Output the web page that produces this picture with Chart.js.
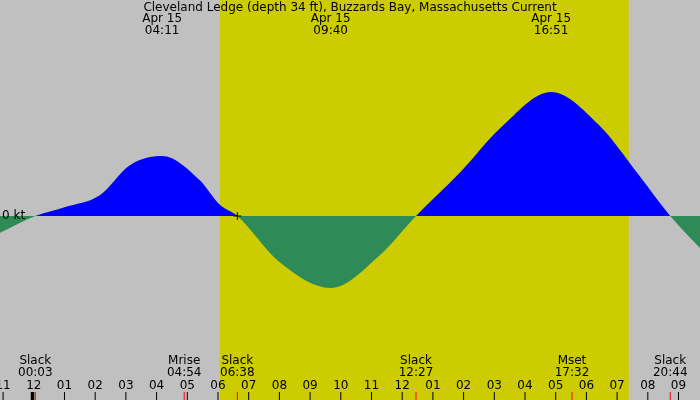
<!DOCTYPE html>
<html>
<head>
<meta charset="utf-8">
<script src="https://cdn.jsdelivr.net/npm/chart.js@4"></script>
<style>
html, body { margin: 0; padding: 0; background: #c0c0c0; }
#wrap { width: 700px; height: 400px; }
</style>
</head>
<body>
<div id="wrap"><canvas id="tide"></canvas></div>
<script>
// hours since midnight, current in kt
const hours = [-1.1, 0.05, 1.0, 2.15, 3.13, 4.18, 5.4, 6.06, 6.63, 8.0, 9.67, 11.27, 12.45, 13.9, 15.2, 16.85, 18.4, 19.7, 20.73, 21.7];
const speeds = [-0.42, 0, 0.22, 0.52, 1.27, 1.5, 0.9, 0.28, 0, -1.15, -1.8, -0.98, 0, 1.1, 2.2, 3.1, 2.28, 1.03, 0, -0.8];
const hourTicks = [-1, 0, 1, 2, 3, 4, 5, 6, 7, 8, 9, 10, 11, 12, 13, 14, 15, 16, 17, 18, 19, 20, 21];
const sunrise = 6.06, sunset = 19.38;
const peaks = [{ h: 4.18, date: 'Apr 15', time: '04:11' }, { h: 9.67, date: 'Apr 15', time: '09:40' }, { h: 16.85, date: 'Apr 15', time: '16:51' }];
const events = [
    { h: 0.05, name: 'Slack', time: '00:03' },
    { h: 4.9, name: 'Mrise', time: '04:54' },
    { h: 6.63, name: 'Slack', time: '06:38' },
    { h: 12.45, name: 'Slack', time: '12:27' },
    { h: 17.53, name: 'Mset', time: '17:32' },
    { h: 20.73, name: 'Slack', time: '20:44' }
];
const title = 'Cleveland Ledge (depth 34 ft), Buzzards Bay, Massachusetts Current';

const FONT = '12px "DejaVu Sans", sans-serif';

function hourLabel(h) {
    let v = ((h % 12) + 12) % 12;
    if (v === 0) v = 12;
    return String(v).padStart(2, '0');
}

const daylight = {
    id: 'daylight',
    beforeDatasetsDraw(chart) {
        const { ctx, scales: { x } } = chart;
        ctx.save();
        ctx.fillStyle = '#cccc00';
        const a = x.getPixelForValue(sunrise), b = x.getPixelForValue(sunset);
        ctx.fillRect(a, 0, b - a, 400);
        ctx.restore();
    }
};

const labels = {
    id: 'labels',
    afterDatasetsDraw(chart) {
        const { ctx, scales: { x, y } } = chart;
        ctx.save();
        ctx.fillStyle = '#000';
        ctx.font = FONT;
        ctx.textAlign = 'center';
        ctx.textBaseline = 'middle';
        ctx.fillText(title, 350, 8);
        peaks.forEach(p => {
            const px = x.getPixelForValue(p.h);
            ctx.fillText(p.date, px, 19);
            ctx.fillText(p.time, px, 31);
        });
        events.forEach(e => {
            let px = x.getPixelForValue(e.h);
            px = Math.min(Math.max(px, 20), 680);
            ctx.fillText(e.name, px, 361);
            ctx.fillText(e.time, px, 373);
        });
        hourTicks.forEach(h => {
            const px = x.getPixelForValue(h);
            ctx.fillText(hourLabel(h), px, 386);
            ctx.fillRect(px - 0.5, 392, 1, 8);
        });
        ctx.fillRect(x.getPixelForValue(0) - 3, 392, 3, 8);
        ctx.fillStyle = '#ff0000';
        events.forEach(e => ctx.fillRect(x.getPixelForValue(e.h) - 0.5, 392, 1, 8));
        // zero line label and marker
        const y0 = y.getPixelForValue(0);
        ctx.fillStyle = '#000';
        ctx.textAlign = 'left';
        ctx.fillText('0 kt', 2, y0);
        const sx = x.getPixelForValue(6.63);
        ctx.fillRect(sx - 4, y0 - 0.5, 8, 1);
        ctx.fillRect(sx - 0.5, y0 - 4, 1, 8);
        ctx.restore();
    }
};

new Chart(document.getElementById('tide'), {
    type: 'line',
    data: {
        datasets: [{
            data: hours.map((h, i) => ({ x: h, y: speeds[i] })),
            borderWidth: 0,
            pointRadius: 0,
            tension: 0.4,
            cubicInterpolationMode: 'monotone',
            fill: { target: 'origin', above: '#0000ff', below: '#2e8b57' }
        }]
    },
    options: {
        responsive: true, maintainAspectRatio: false, animation: false,
        layout: { padding: 0 },
        plugins: { legend: { display: false }, tooltip: { enabled: false } },
        scales: {
            x: { type: 'linear', min: -1.1, max: 21.7, display: false },
            y: { min: -4.6, max: 5.4, display: false }
        }
    },
    plugins: [daylight, labels]
});
</script>
</body>
</html>
